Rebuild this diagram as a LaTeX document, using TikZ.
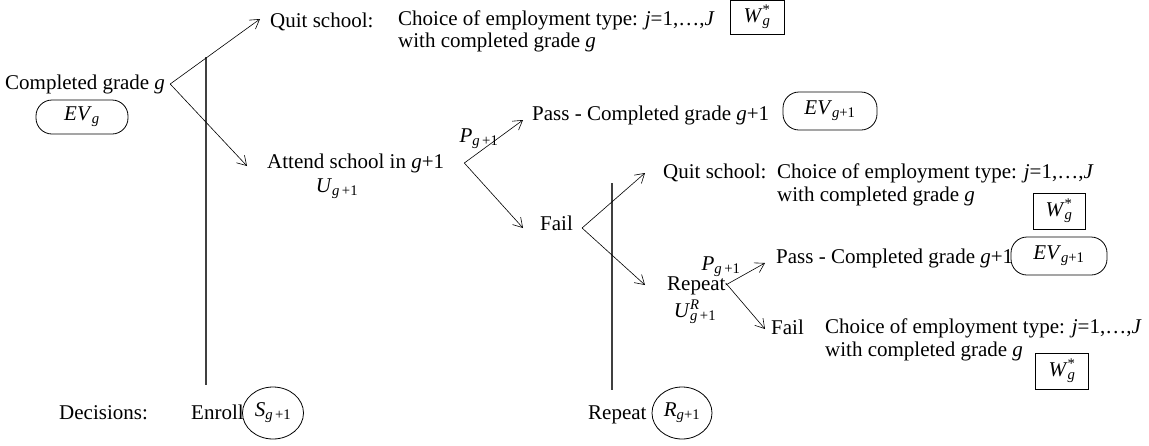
\documentclass[tikz,border=0pt]{standalone}
\usepackage{fontspec}
\setmainfont{Liberation Serif}
\usetikzlibrary{arrows.meta,shapes.geometric}
\newcommand{\gp}{\textit{g}\,+1}
\newcommand{\Wg}{\textit{W}\rlap{\textsuperscript{*}}\textsubscript{\textit{g}}}
\tikzset{
  txt/.style={inner sep=0pt, anchor=west, text height=14pt, text depth=4pt},
  lbl/.style={inner sep=0pt, text height=14pt, text depth=4pt},
  arr/.style={-{Straight Barb[length=9pt,width=11pt]}, line width=0.6pt},
  vline/.style={line width=1.3pt, black!75},
  evbox/.style={draw, rounded corners=16pt, minimum width=92pt, minimum height=36pt, inner sep=0pt, line width=0.8pt},
  wbox/.style={draw, minimum width=52pt, minimum height=36pt, inner sep=0pt, line width=0.8pt},
  decell/.style={draw, ellipse, minimum width=61pt, minimum height=52pt, inner sep=0pt, line width=0.8pt}
}
\begin{document}
\begin{tikzpicture}[x=1pt,y=-1pt,font=\fontsize{21}{22}\selectfont]
\useasboundingbox (0,0) rectangle (1149,445);
% first stage
\node[txt] (cg) at (5,84) {Completed grade \textit{g}};
\node[evbox, minimum height=34pt] (ev1) at (82,117) {\textit{EV}\textsubscript{\textit{g}}};
\node[txt] (qs1) at (270,22) {Quit school:};
\node[txt] (ch1a) at (398,20) {Choice of employment type: \textit{j}=1,…,\textit{J}};
\node[txt] (ch1b) at (398,42) {with completed grade \textit{g}};
\node[wbox, minimum width=54pt, minimum height=34pt] (w1) at (757,17) {\Wg};
\draw[vline] (206,57) -- (206,385);
% attend
\node[txt] (att) at (267,163) {Attend school in \textit{g}+1};
\node[lbl] (ug) at (337,187) {\textit{U}\textsubscript{\gp}};
\node[lbl] (pg1) at (479,137) {\textit{P}\textsubscript{\gp}};
\node[txt] (pass1) at (532,115) {Pass - Completed grade \textit{g}+1};
\node[evbox, minimum width=94pt, minimum height=38pt] (ev2) at (830,111) {\textit{EV}\textsubscript{\textit{g}+1}};
\node[txt] (fail1) at (540,225) {Fail};
% second stage
\node[txt] (qs2) at (663,173) {Quit school:};
\node[txt] (ch2a) at (777,173) {Choice of employment type: \textit{j}=1,…,\textit{J}};
\node[txt] (ch2b) at (777,196) {with completed grade \textit{g}};
\node[wbox] (w2) at (1059,211) {\Wg};
\draw[vline] (612,183) -- (612,390);
\node[txt] (rep) at (667,285) {Repeat};
\node[lbl] (pg2) at (721,265) {\textit{P}\textsubscript{\gp}};
\node[lbl] (urg) at (695,312) {\textit{U}\rlap{\textsuperscript{\textit{R}}}\textsubscript{\gp}};
\node[txt] (pass2) at (776,258) {Pass - Completed grade \textit{g}+1};
\node[evbox, minimum width=96pt, minimum height=38pt] (ev3) at (1059,256) {\textit{EV}\textsubscript{\textit{g}+1}};
\node[txt] (fail2) at (771,329) {Fail};
\node[txt] (ch3a) at (825,328) {Choice of employment type: \textit{j}=1,…,\textit{J}};
\node[txt] (ch3b) at (825,351) {with completed grade \textit{g}};
\node[wbox, minimum width=53pt] (w3) at (1062,371) {\Wg};
% decisions
\node[txt] (dec) at (59,414) {Decisions:};
\node[txt] (enr) at (191,414) {Enroll};
\node[decell] (S) at (273,413) {\textit{S}\textsubscript{\gp}};
\node[txt] (rep2) at (588,414) {Repeat};
\node[decell, minimum width=60pt] (R) at (682,413) {\textit{R}\textsubscript{\textit{g}+1}};
% arrows
\draw[arr] ([xshift=5pt]cg.east) -- ([xshift=-10pt,yshift=3pt]qs1.west);
\draw[arr] ([xshift=5pt]cg.east) -- ([xshift=-20pt,yshift=-3pt]att.west);
\draw[arr] ([xshift=20pt]att.east) -- ([xshift=-9pt,yshift=-5pt]pass1.west);
\draw[arr] ([xshift=20pt]att.east) -- ([xshift=-17pt,yshift=-3pt]fail1.west);
\draw[arr] ([xshift=9pt,yshift=-3pt]fail1.east) -- ([xshift=-18pt]qs2.west);
\draw[arr] ([xshift=9pt,yshift=-3pt]fail1.east) -- ([xshift=-22pt]rep.west);
\draw[arr] ([xshift=0pt]rep.east) -- ([xshift=-11pt,yshift=-5pt]pass2.west);
\draw[arr] ([xshift=0pt,yshift=2pt]rep.east) -- ([xshift=-6pt]fail2.west);
\end{tikzpicture}
\end{document}
